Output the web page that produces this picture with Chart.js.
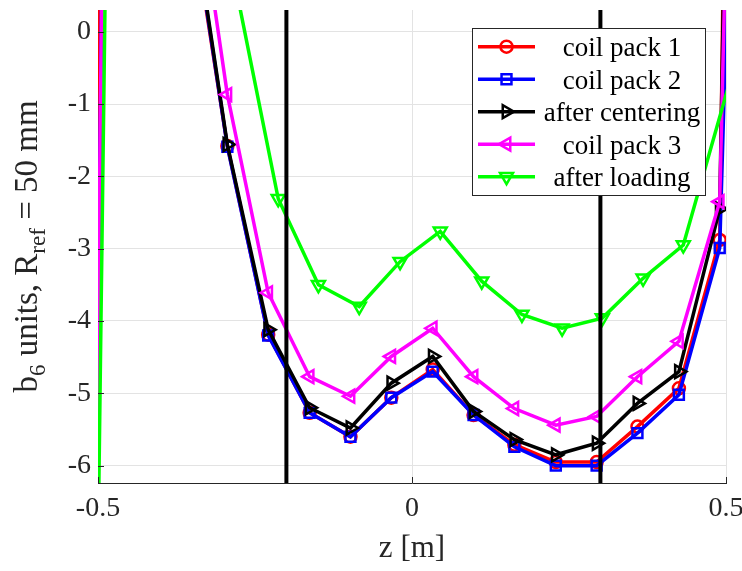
<!DOCTYPE html>
<html>
<head>
<meta charset="utf-8">
<script src="https://cdn.jsdelivr.net/npm/chart.js@4.4.0/dist/chart.umd.min.js"></script>
<style>
  html, body { margin: 0; padding: 0; background: #fff; }
  #wrap { width: 742px; height: 571px; position: relative; }
</style>
</head>
<body>
<div id="wrap"><canvas id="chart"></canvas></div>
<script>
// z positions [m] (first / last points sit outside the plotted window)
const zMain = [-0.555, -0.49, -0.425, -0.359, -0.294, -0.229, -0.163, -0.098, -0.033, 0.033, 0.098, 0.163, 0.229, 0.294, 0.359, 0.425, 0.49, 0.555];
const zLoaded = [-0.535, -0.471, -0.406, -0.342, -0.277, -0.213, -0.149, -0.084, -0.019, 0.045, 0.111, 0.175, 0.239, 0.303, 0.368, 0.432, 0.56];

// b6 units
const coilPack1 = [-49.7, 8, 6, 2.06, -1.58, -4.19, -5.27, -5.60, -5.06, -4.67, -5.30, -5.71, -5.95, -5.95, -5.46, -4.93, -2.88, 40.6];
const coilPack2 = [-48.4, 3.8, 6, 2.15, -1.59, -4.20, -5.27, -5.60, -5.06, -4.70, -5.30, -5.74, -6.00, -6.00, -5.55, -5.02, -2.99, 16.6];
const afterCentering = [-80, 40, 10, 2.2, -1.56, -4.12, -5.20, -5.48, -4.86, -4.49, -5.25, -5.64, -5.85, -5.69, -5.14, -4.70, -2.45, 30];
const coilPack3 = [-47.6, 3.8, 7, 3.0, -0.87, -3.61, -4.77, -5.04, -4.49, -4.10, -4.77, -5.21, -5.44, -5.32, -4.77, -4.28, -2.35, 21.8];
const afterLoading = [-31, 12.5, 8, 3, 0.46, -2.31, -3.50, -3.80, -3.18, -2.76, -3.45, -3.91, -4.10, -3.96, -3.41, -2.95, 0.96];

const seriesNames = ["coil pack 1", "coil pack 2", "after centering", "coil pack 3", "after loading"];
const seriesColors = ["#ff0000", "#0000ff", "#000000", "#ff00ff", "#00ff00"];
const markerStyles = ["circle", "rect", "triangle", "triangle", "triangle"];
const markerRotations = [0, 0, 90, -90, 180];
const markerRadius = [6, 7, 7.5, 7.5, 7.5];

const zLimits = [-0.5, 0.5];
const zTicks = [-0.5, 0, 0.5];
const bLimits = [-6.24, 0.3];
const bTicks = [-6, -5, -4, -3, -2, -1, 0];
const guideZ = [-0.2, 0.3];

const FONT = '"Liberation Serif", "Times New Roman", serif';
const AXIS_COLOR = '#262626';

function toPoints(xs, ys) {
  return ys.map((y, i) => ({ x: xs[i], y: y }));
}

function drawMarker(ctx, style, rot, r, x, y, color) {
  ctx.save();
  ctx.strokeStyle = color;
  ctx.lineWidth = 2.5;
  ctx.beginPath();
  if (style === 'circle') {
    ctx.arc(x, y, r, 0, Math.PI * 2);
  } else if (style === 'rect') {
    const s = r * Math.SQRT1_2;
    ctx.rect(x - s, y - s, 2 * s, 2 * s);
  } else {
    let a = rot * Math.PI / 180;
    ctx.moveTo(x + Math.sin(a) * r, y - Math.cos(a) * r);
    a += 2 * Math.PI / 3;
    ctx.lineTo(x + Math.sin(a) * r, y - Math.cos(a) * r);
    a += 2 * Math.PI / 3;
    ctx.lineTo(x + Math.sin(a) * r, y - Math.cos(a) * r);
    ctx.closePath();
  }
  ctx.stroke();
  ctx.restore();
}

const seriesValues = [coilPack1, coilPack2, afterCentering, coilPack3, afterLoading];
const seriesZ = [zMain, zMain, zMain, zMain, zLoaded];

const datasets = seriesNames.map((name, i) => ({
  label: name,
  data: toPoints(seriesZ[i], seriesValues[i]),
  borderColor: seriesColors[i],
  backgroundColor: 'transparent',
  borderWidth: 3.5,
  pointStyle: markerStyles[i],
  pointRotation: markerRotations[i],
  pointRadius: markerRadius[i],
  pointBorderWidth: 2.5,
  pointBorderColor: seriesColors[i],
  pointBackgroundColor: 'transparent',
  order: 10 - i,
  clip: 0
}));

guideZ.forEach(z => {
  datasets.push({
    label: 'guide',
    data: [{ x: z, y: bLimits[0] }, { x: z, y: bLimits[1] }],
    borderColor: '#000',
    borderWidth: 4,
    pointRadius: 0,
    order: 0,
    clip: 0
  });
});

// inward tick marks, y label with subscripts, boxed legend
const decorPlugin = {
  id: 'decor',
  afterDraw(chart) {
    const ctx = chart.ctx;
    const xs = chart.scales.x, ys = chart.scales.y;
    const area = chart.chartArea;
    ctx.save();
    ctx.strokeStyle = AXIS_COLOR;
    ctx.lineWidth = 1;
    ctx.beginPath();
    zTicks.forEach(v => {
      const px = Math.round(xs.getPixelForValue(v)) + 0.5;
      ctx.moveTo(px, area.bottom);
      ctx.lineTo(px, area.bottom - 6);
    });
    bTicks.forEach(v => {
      const py = Math.round(ys.getPixelForValue(v)) + 0.5;
      ctx.moveTo(area.left, py);
      ctx.lineTo(area.left + 6, py);
    });
    ctx.stroke();

    // y axis title
    const parts = [['b', false], ['6', true], [' units, R', false], ['ref', true], [' = 50 mm', false]];
    const mainFont = '33px ' + FONT, subFont = '23px ' + FONT;
    let total = 0;
    parts.forEach(p => { ctx.font = p[1] ? subFont : mainFont; total += ctx.measureText(p[0]).width; });
    ctx.translate(37, (area.top + area.bottom) / 2);
    ctx.rotate(-Math.PI / 2);
    ctx.fillStyle = AXIS_COLOR;
    ctx.textBaseline = 'alphabetic';
    ctx.textAlign = 'left';
    let cx = -total / 2;
    parts.forEach(p => {
      ctx.font = p[1] ? subFont : mainFont;
      ctx.fillText(p[0], cx, p[1] ? 8 : 0);
      cx += ctx.measureText(p[0]).width;
    });
    ctx.restore();

    // legend
    ctx.save();
    const lx = 472.5, ly = 28.5, lw = 233, lh = 167;
    ctx.fillStyle = '#fff';
    ctx.fillRect(lx, ly, lw, lh);
    ctx.strokeStyle = AXIS_COLOR;
    ctx.lineWidth = 1;
    ctx.strokeRect(lx, ly, lw, lh);
    seriesNames.forEach((name, i) => {
      const y = 46.7 + i * 32.5;
      ctx.strokeStyle = seriesColors[i];
      ctx.lineWidth = 3.5;
      ctx.beginPath();
      ctx.moveTo(478, y);
      ctx.lineTo(535, y);
      ctx.stroke();
      drawMarker(ctx, markerStyles[i], markerRotations[i], markerRadius[i], 506.5, y, seriesColors[i]);
      ctx.fillStyle = '#000';
      ctx.font = '27px ' + FONT;
      ctx.textAlign = 'center';
      ctx.textBaseline = 'alphabetic';
      ctx.fillText(name, 622, y + 9.5);
    });
    ctx.restore();
  }
};

new Chart(document.getElementById('chart'), {
  type: 'line',
  data: { datasets: datasets },
  options: {
    responsive: true,
    maintainAspectRatio: false,
    animation: false,
    layout: { padding: { top: 10, right: 16, left: 0, bottom: 0 } },
    plugins: { legend: { display: false }, tooltip: { enabled: false } },
    elements: { line: { tension: 0 } },
    scales: {
      x: {
        type: 'linear',
        min: zLimits[0],
        max: zLimits[1],
        afterBuildTicks: s => { s.ticks = zTicks.map(v => ({ value: v })); },
        afterFit: s => { s.height = 88; s.paddingLeft = 0; s.paddingRight = 0; },
        grid: { color: '#e3e3e3', lineWidth: 1, drawTicks: false },
        border: { display: true, color: AXIS_COLOR, width: 1 },
        ticks: { font: { family: FONT, size: 28 }, color: AXIS_COLOR, padding: 9, maxRotation: 0 },
        title: { display: true, text: 'z [m]', font: { family: FONT, size: 31 }, color: AXIS_COLOR, padding: { top: 0, bottom: 4 } }
      },
      y: {
        type: 'linear',
        min: bLimits[0],
        max: bLimits[1],
        afterBuildTicks: s => { s.ticks = bTicks.map(v => ({ value: v })); },
        afterFit: s => { s.width = 98; s.paddingTop = 0; s.paddingBottom = 0; },
        grid: { color: '#e3e3e3', lineWidth: 1, drawTicks: false },
        border: { display: true, color: AXIS_COLOR, width: 1 },
        ticks: { font: { family: FONT, size: 28 }, color: AXIS_COLOR, padding: 7 }
      }
    }
  },
  plugins: [decorPlugin]
});
</script>
</body>
</html>
